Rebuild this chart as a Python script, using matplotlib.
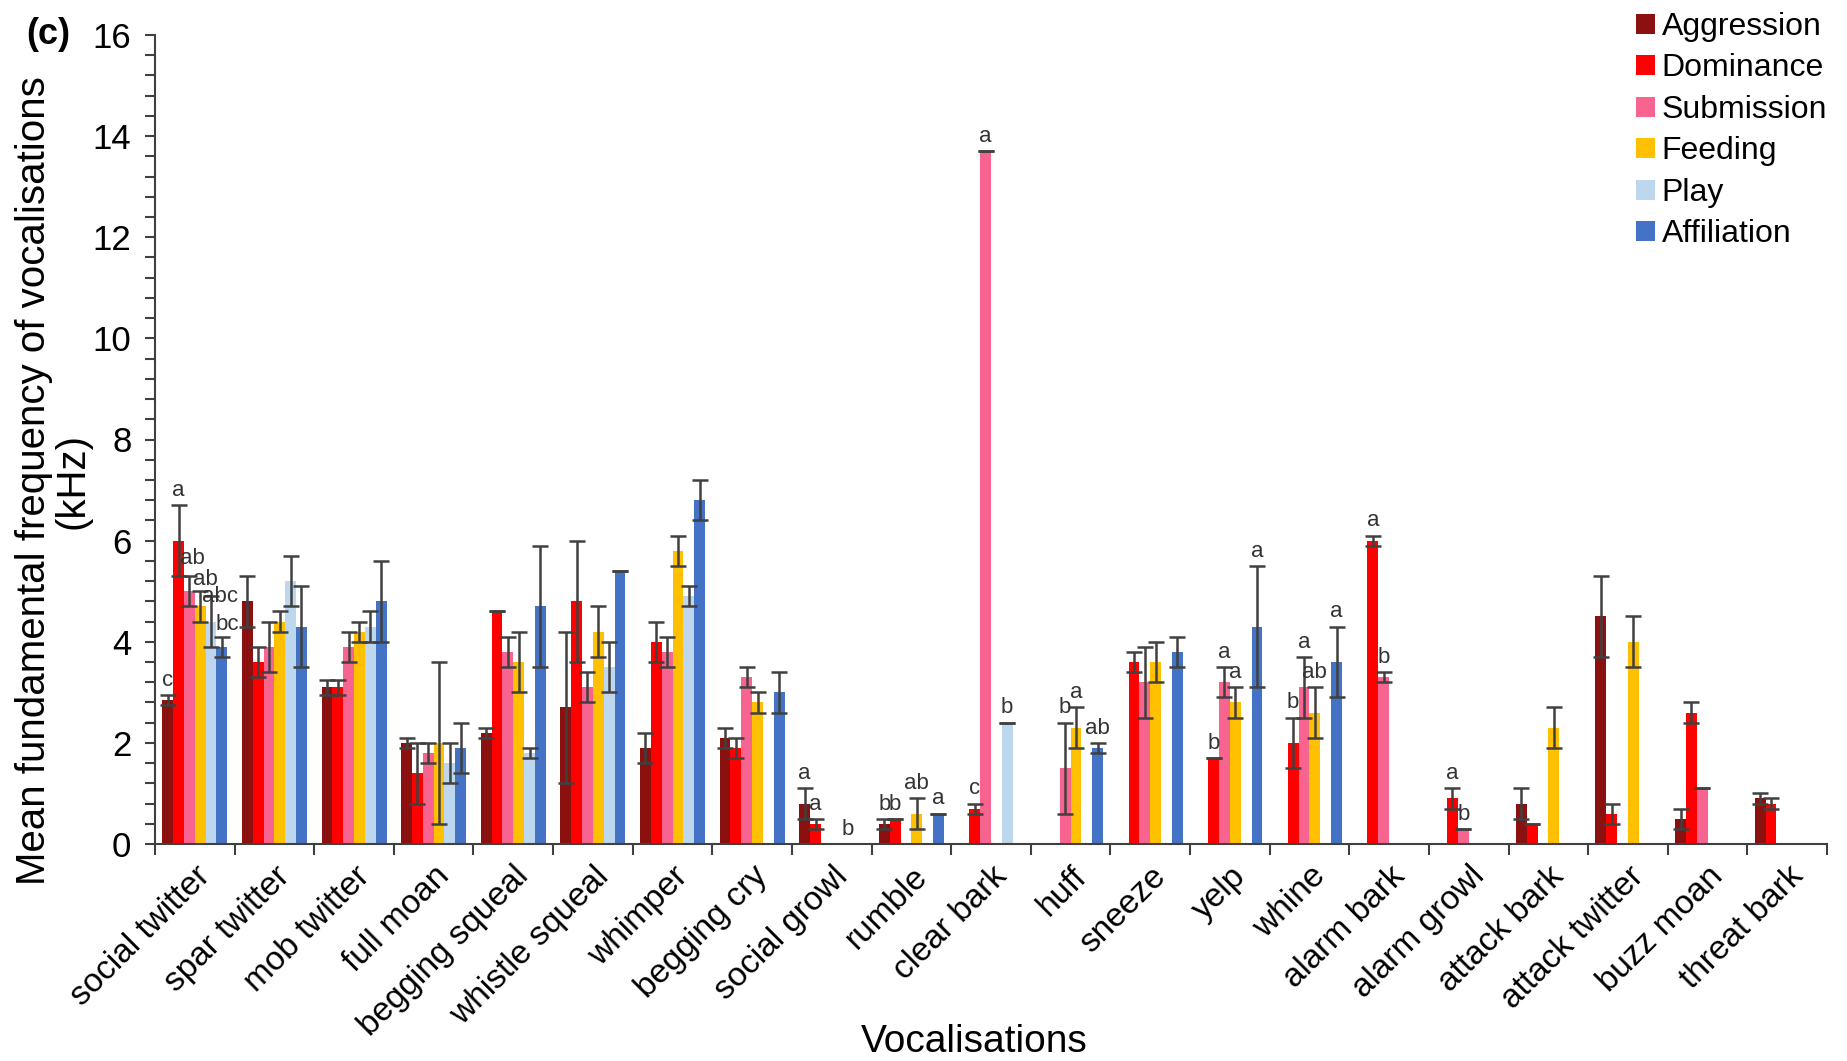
import numpy as np
import matplotlib
matplotlib.use("Agg")
import matplotlib.pyplot as plt
from matplotlib.ticker import MultipleLocator, FixedLocator

nan = np.nan

vocalisations = ["social twitter", "spar twitter", "mob twitter", "full moan",
                 "begging squeal", "whistle squeal", "whimper", "begging cry",
                 "social growl", "rumble", "clear bark", "huff", "sneeze", "yelp",
                 "whine", "alarm bark", "alarm growl", "attack bark",
                 "attack twitter", "buzz moan", "threat bark"]

series_names = ["Aggression", "Dominance", "Submission", "Feeding", "Play", "Affiliation"]

aggression = [2.85, 4.8, 3.1, 2.0, 2.2, 2.7, 1.9, 2.1, 0.8, 0.4, nan, nan, nan, nan,
              nan, nan, nan, 0.8, 4.5, 0.5, 0.9]
aggression_err = [0.1, 0.5, 0.15, 0.1, 0.1, 1.5, 0.3, 0.2, 0.3, 0.1, nan, nan, nan, nan,
                  nan, nan, nan, 0.3, 0.8, 0.2, 0.1]
dominance = [6.0, 3.6, 3.1, 1.4, 4.6, 4.8, 4.0, 1.9, 0.4, 0.5, 0.7, nan, 3.6, 1.7,
             2.0, 6.0, 0.9, 0.4, 0.6, 2.6, 0.8]
dominance_err = [0.7, 0.3, 0.15, 0.6, 0.0, 1.2, 0.4, 0.2, 0.1, 0.0, 0.1, nan, 0.2, 0.0,
                 0.5, 0.1, 0.2, 0.0, 0.2, 0.2, 0.1]
submission = [5.0, 3.9, 3.9, 1.8, 3.8, 3.1, 3.8, 3.3, nan, nan, 13.7, 1.5, 3.2, 3.2,
              3.1, 3.3, 0.3, nan, nan, 1.1, nan]
submission_err = [0.3, 0.5, 0.3, 0.2, 0.3, 0.3, 0.3, 0.2, nan, nan, 0.0, 0.9, 0.7, 0.3,
                  0.6, 0.1, 0.0, nan, nan, 0.0, nan]
feeding = [4.7, 4.4, 4.2, 2.0, 3.6, 4.2, 5.8, 2.8, nan, 0.6, nan, 2.3, 3.6, 2.8,
           2.6, nan, nan, 2.3, 4.0, nan, nan]
feeding_err = [0.3, 0.2, 0.2, 1.6, 0.6, 0.5, 0.3, 0.2, nan, 0.3, nan, 0.4, 0.4, 0.3,
               0.5, nan, nan, 0.4, 0.5, nan, nan]
play = [4.4, 5.2, 4.3, 1.6, 1.8, 3.5, 4.9, nan, 0.0, nan, 2.4, nan, nan, nan,
        nan, nan, nan, nan, nan, nan, nan]
play_err = [0.5, 0.5, 0.3, 0.4, 0.1, 0.5, 0.2, nan, nan, nan, 0.0, nan, nan, nan,
            nan, nan, nan, nan, nan, nan, nan]
affiliation = [3.9, 4.3, 4.8, 1.9, 4.7, 5.4, 6.8, 3.0, nan, 0.6, nan, 1.9, 3.8, 4.3,
               3.6, nan, nan, nan, nan, nan, nan]
affiliation_err = [0.2, 0.8, 0.8, 0.5, 1.2, 0.0, 0.4, 0.4, nan, 0.0, nan, 0.1, 0.3, 1.2,
                   0.7, nan, nan, nan, nan, nan, nan]

# significance letters (index of vocalisation -> letter)
aggression_letters = {0: "c", 8: "a", 9: "b"}
dominance_letters = {0: "a", 8: "a", 9: "b", 10: "c", 13: "b", 14: "b", 15: "a", 16: "a"}
submission_letters = {0: "ab", 10: "a", 11: "b", 13: "a", 14: "a", 15: "b", 16: "b"}
feeding_letters = {0: "ab", 9: "ab", 11: "a", 13: "a", 14: "ab"}
play_letters = {0: "abc", 8: "b", 10: "b"}
affiliation_letters = {0: "bc", 9: "a", 11: "ab", 13: "a", 14: "a"}

values = [aggression, dominance, submission, feeding, play, affiliation]
errors = [aggression_err, dominance_err, submission_err, feeding_err, play_err, affiliation_err]
letters = [aggression_letters, dominance_letters, submission_letters,
           feeding_letters, play_letters, affiliation_letters]
colors = ["#8B1010", "#FF0000", "#F7648F", "#FFC000", "#BDD7EE", "#4472C4"]

plt.rcParams['font.family'] = ['Liberation Sans', 'DejaVu Sans']

fig = plt.figure(figsize=(18.47, 10.61), dpi=100)
ax = fig.add_axes([155/1847, 1-844/1061, (1827-155)/1847, (844-35)/1061])

n = len(vocalisations)
x = np.arange(n)
w = 0.136
ecol = "#404040"

handles = []
for j, (vals, errs, col, name) in enumerate(zip(values, errors, colors, series_names)):
    vals = np.array(vals, dtype=float)
    errs = np.array(errs, dtype=float)
    pos = x + (j - 2.5) * w
    h = ax.bar(pos, np.nan_to_num(vals), width=w, color=col, label=name, zorder=2)
    handles.append(h)
    mask = ~np.isnan(vals) & ~np.isnan(errs)
    ax.errorbar(pos[mask], vals[mask], yerr=errs[mask], fmt="none", ecolor=ecol,
                elinewidth=1.8, capsize=6, capthick=1.8, zorder=3)

# letter offsets for the crowded first group (in points)
shift = {(2, 0): (2, 5), (3, 0): (4, 1), (4, 0): (6.5, -8), (5, 0): (3.6, 1)}
for j, (vals, errs, lt) in enumerate(zip(values, errors, letters)):
    for i, s in lt.items():
        v = vals[i]
        e = errs[i]
        v = 0.0 if np.isnan(v) else v
        e = 0.0 if np.isnan(e) else e
        pos = i + (j - 2.5) * w
        dx, dy = shift.get((j, i), (0, 3))
        ax.annotate(s, (pos, v + e), xytext=(dx, dy),
                    textcoords="offset points", ha="center", va="bottom",
                    fontsize=16, color="#333333", zorder=4)

ax.set_xlim(-0.5, n - 0.5)
ax.set_ylim(0, 16)
ax.yaxis.set_major_locator(MultipleLocator(2))
ax.yaxis.set_minor_locator(MultipleLocator(0.4))
ax.tick_params(axis="y", which="both", direction="out", length=7, width=1.5,
               color="#404040", labelsize=25, pad=10)

ax.set_xticks(x)
ax.set_xticklabels(vocalisations, rotation=45, ha="right", va="top",
                   rotation_mode="anchor", fontsize=24)
ax.xaxis.set_minor_locator(FixedLocator(np.arange(-0.5, n, 1.0)))
ax.tick_params(axis="x", which="major", length=0, pad=12)
ax.tick_params(axis="x", which="minor", direction="out", length=8, width=1.5,
               color="#404040")

for sp in ["top", "right"]:
    ax.spines[sp].set_visible(False)
for sp in ["left", "bottom"]:
    ax.spines[sp].set_color("#404040")
    ax.spines[sp].set_linewidth(1.5)

fig.text(53/1847, 1-481/1061, "Mean fundamental frequency of vocalisations\n(kHz)",
         rotation=90, ha="center", va="center", fontsize=29, linespacing=1.0,
         multialignment="center")
fig.text(974/1847, 1-1042/1061, "Vocalisations", ha="center", va="center", fontsize=28)
fig.text(48/1847, 1-35/1061, "(c)", ha="center", va="center", fontsize=26,
         fontweight="bold")

leg = fig.legend(handles=handles, labels=series_names, loc="upper left",
                 bbox_to_anchor=(1636/1847, 1-12/1061), frameon=False, fontsize=23,
                 handlelength=0.6, handleheight=0.6, handletextpad=0.2,
                 labelspacing=0.36, borderpad=0, borderaxespad=0)

fig.savefig("out.png", dpi=100)
